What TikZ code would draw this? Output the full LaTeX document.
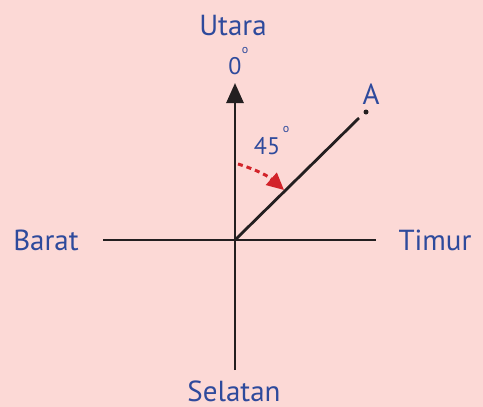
\documentclass[tikz,border=0pt]{standalone}
\usepackage{fontspec}
\setmainfont{PT Sans}
\usetikzlibrary{arrows.meta}
\definecolor{bg}{HTML}{FCD9D6}
\definecolor{lbl}{HTML}{2E4A9C}
\definecolor{redarr}{HTML}{D2232A}
\definecolor{ink}{HTML}{231F20}
\tikzset{
  axis/.style={draw=ink, line width=2.8pt},
  lab/.style={text=lbl, font=\fontsize{29}{32}\selectfont, inner sep=0pt, anchor=base, text depth=0pt},
  num/.style={text=lbl, font=\fontsize{24}{27}\selectfont, inner sep=0pt, anchor=base},
  deg/.style={text=lbl, font=\fontsize{12}{13}\selectfont, inner sep=0pt, anchor=base, text height=5pt, text depth=0pt},
}
\begin{document}
\begin{tikzpicture}[x=1pt,y=-1pt]
\fill[bg] (0,0) rectangle (483,407);
\useasboundingbox (0,0) rectangle (483,407);
\coordinate (O) at (235,240);
\coordinate (N) at (235,83);
\coordinate (S) at (235,370);
\coordinate (W) at (103,240);
\coordinate (E) at (376,240);
\coordinate (D) at (359,118);
\coordinate (r1) at (238,164);
\coordinate (r2) at (284,190);
\draw[axis] (W) -- (E);
\draw[axis] (S) -- (235,100);
\draw[axis, -{Triangle[length=20pt,width=17pt]}, line width=2.8pt] (O) -- (N);
\draw[axis] (O) -- (D);
\node[circle, fill=ink, inner sep=0pt, minimum size=5pt] (dot) at (366,112) {};
\node[lab] (A) at (371,104) {A};
\node[lab] (utara) at (233,35) {Utara};
\node[lab] (selatan) at (234,401) {Selatan};
\node[lab] (barat) at (46,250) {Barat};
\node[lab] (timur) at (435,250) {Timur};
\node[num] (zero) at (235,74) {0};
\node[deg] (zdeg) at (245,53) {o};
\node[num] (ff) at (267,154) {45};
\node[deg] (ffdeg) at (286,132) {o};
\draw[redarr, line width=3pt, dash pattern=on 5pt off 4pt, -{Triangle[length=17pt,width=16pt]}] (r1) to[bend left=12] (r2);
\end{tikzpicture}
\end{document}
